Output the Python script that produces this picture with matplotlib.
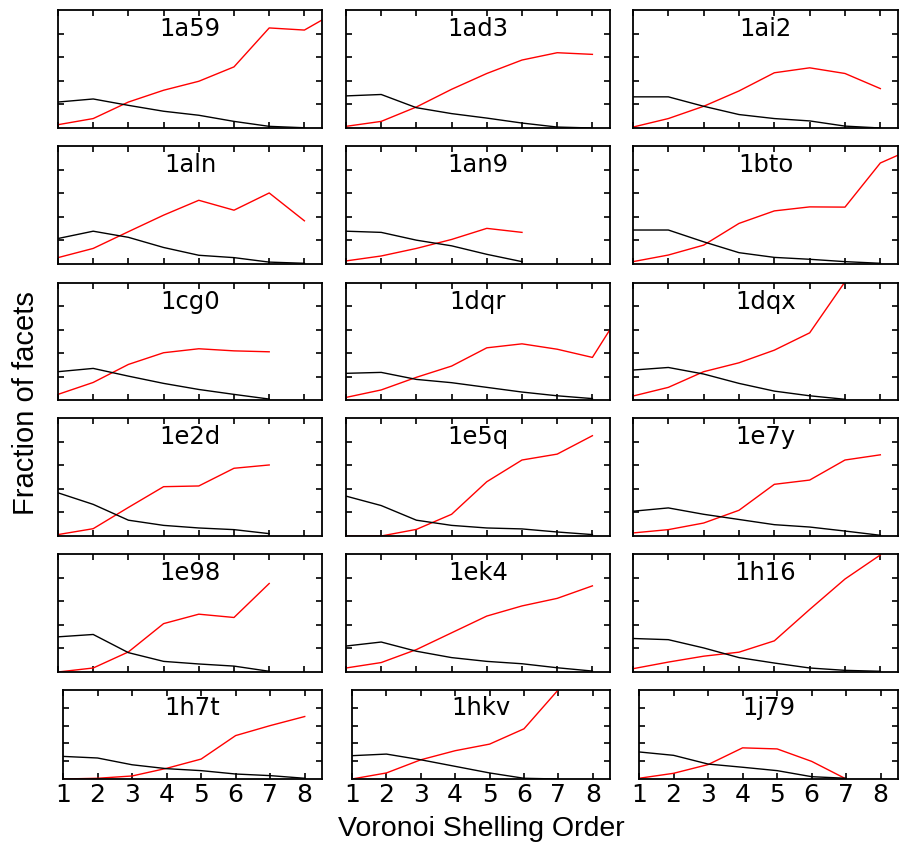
import matplotlib
matplotlib.use("Agg")
import matplotlib.pyplot as plt

# panel names, left-to-right, top-to-bottom
names = ["1a59", "1ad3", "1ai2",
         "1aln", "1an9", "1bto",
         "1cg0", "1dqr", "1dqx",
         "1e2d", "1e5q", "1e7y",
         "1e98", "1ek4", "1h16",
         "1h7t", "1hkv", "1j79"]

# red curves (shelling order 1, 2, 3 ...)
red = [
    [0.14, 0.40, 1.10, 1.60, 1.98, 2.59, 4.24, 4.15, 5.00],
    [0.07, 0.28, 0.89, 1.64, 2.31, 2.88, 3.19, 3.12],
    [0.04, 0.40, 0.92, 1.57, 2.34, 2.55, 2.31, 1.67],
    [0.27, 0.66, 1.37, 2.07, 2.70, 2.28, 3.01, 1.83],
    [0.13, 0.34, 0.66, 1.04, 1.51, 1.34],
    [0.10, 0.38, 0.80, 1.72, 2.25, 2.42, 2.41, 4.28, 4.94],
    [0.24, 0.75, 1.52, 2.02, 2.19, 2.10, 2.06],
    [0.11, 0.43, 0.97, 1.45, 2.23, 2.40, 2.17, 1.82, 4.20],
    [0.17, 0.54, 1.21, 1.59, 2.13, 2.87, 5.05],
    [0.06, 0.31, 1.21, 2.09, 2.12, 2.87, 3.01],
    [0.00, 0.00, 0.28, 0.92, 2.30, 3.22, 3.47, 4.25],
    [0.13, 0.27, 0.55, 1.09, 2.19, 2.37, 3.22, 3.44],
    [0.00, 0.17, 0.85, 2.05, 2.45, 2.31, 3.75],
    [0.17, 0.40, 0.95, 1.66, 2.37, 2.80, 3.12, 3.65],
    [0.14, 0.42, 0.67, 0.84, 1.32, 2.65, 3.94, 4.96],
    [0.00, 0.04, 0.17, 0.60, 1.12, 2.44, 3.00, 3.51],
    [0.00, 0.34, 1.08, 1.59, 1.96, 2.82, 5.02],
    [0.04, 0.32, 0.81, 1.75, 1.69, 0.99, 0.00],
]

# black curves
black = [
    [1.10, 1.23, 0.96, 0.71, 0.54, 0.28, 0.07, 0.01],
    [1.36, 1.42, 0.86, 0.61, 0.42, 0.21, 0.04, 0.00],
    [1.32, 1.32, 0.92, 0.57, 0.40, 0.30, 0.08, 0.00],
    [1.08, 1.39, 1.13, 0.70, 0.37, 0.27, 0.08, 0.03],
    [1.39, 1.34, 1.01, 0.77, 0.41, 0.10],
    [1.44, 1.44, 0.94, 0.48, 0.28, 0.20, 0.10, 0.03],
    [1.21, 1.35, 1.02, 0.71, 0.45, 0.24, 0.04],
    [1.14, 1.18, 0.88, 0.74, 0.54, 0.34, 0.18, 0.06],
    [1.28, 1.39, 1.11, 0.71, 0.38, 0.18, 0.03],
    [1.83, 1.34, 0.67, 0.45, 0.34, 0.27, 0.10],
    [1.69, 1.29, 0.67, 0.45, 0.34, 0.30, 0.17, 0.06],
    [1.05, 1.19, 0.92, 0.70, 0.48, 0.38, 0.21, 0.03],
    [1.49, 1.59, 0.82, 0.45, 0.34, 0.25, 0.03],
    [1.10, 1.27, 0.88, 0.61, 0.45, 0.35, 0.18, 0.04],
    [1.42, 1.37, 1.02, 0.61, 0.38, 0.17, 0.07, 0.03],
    [1.27, 1.18, 0.80, 0.58, 0.47, 0.28, 0.19, 0.04],
    [1.31, 1.40, 1.08, 0.71, 0.34, 0.04, 0.00],
    [1.52, 1.33, 0.84, 0.66, 0.47, 0.13, 0.04],
]

xticks = [1, 2, 3, 4, 5, 6, 7, 8]

W, H = 899, 848
fig = plt.figure(figsize=(W / 100, H / 100), dpi=100)

tops = [10, 146, 283, 418, 554, 690]
bots = [128, 264, 400, 536, 672, 779]
lefts = [58, 346, 633]
lefts_last = [63, 352, 639]
rights = [322, 610, 898]

for i, name in enumerate(names):
    r, c = divmod(i, 3)
    l = lefts_last[c] if r == 5 else lefts[c]
    ax = fig.add_axes([l / W, 1 - bots[r] / H, (rights[c] - l) / W, (bots[r] - tops[r]) / H])
    ax.plot(range(1, len(red[i]) + 1), red[i], color="red", lw=1.0)
    ax.plot(range(1, len(black[i]) + 1), black[i], color="black", lw=1.0)
    ax.set_xlim(1, 8.5)
    ax.set_ylim(0, 5)
    ax.set_xticks(xticks)
    ax.set_yticks([1, 2, 3, 4])
    ax.tick_params(direction="in", top=True, right=True, length=4.5, width=1.2)
    ax.set_yticklabels([])
    if r == 5:
        ax.set_xticklabels([str(t) for t in xticks], fontsize=18, family="DejaVu Sans")
        ax.tick_params(axis="x", pad=3)
    else:
        ax.set_xticklabels([])
    for s in ax.spines.values():
        s.set_linewidth(1.3)
    ty = 0.80 if r == 5 else 0.84
    ax.text(0.5, ty, name, transform=ax.transAxes, ha="center", va="center",
            fontsize=17.5, family="DejaVu Sans")

fig.text(481 / W, 1 - 829 / H, "Voronoi Shelling Order", ha="center", va="center",
         fontsize=20.5, family="Liberation Sans")
fig.text(26 / W, 1 - 403 / H, "Fraction of facets", ha="center", va="center",
         rotation=90, fontsize=21, family="Liberation Sans")

fig.savefig("out.png", dpi=100)
